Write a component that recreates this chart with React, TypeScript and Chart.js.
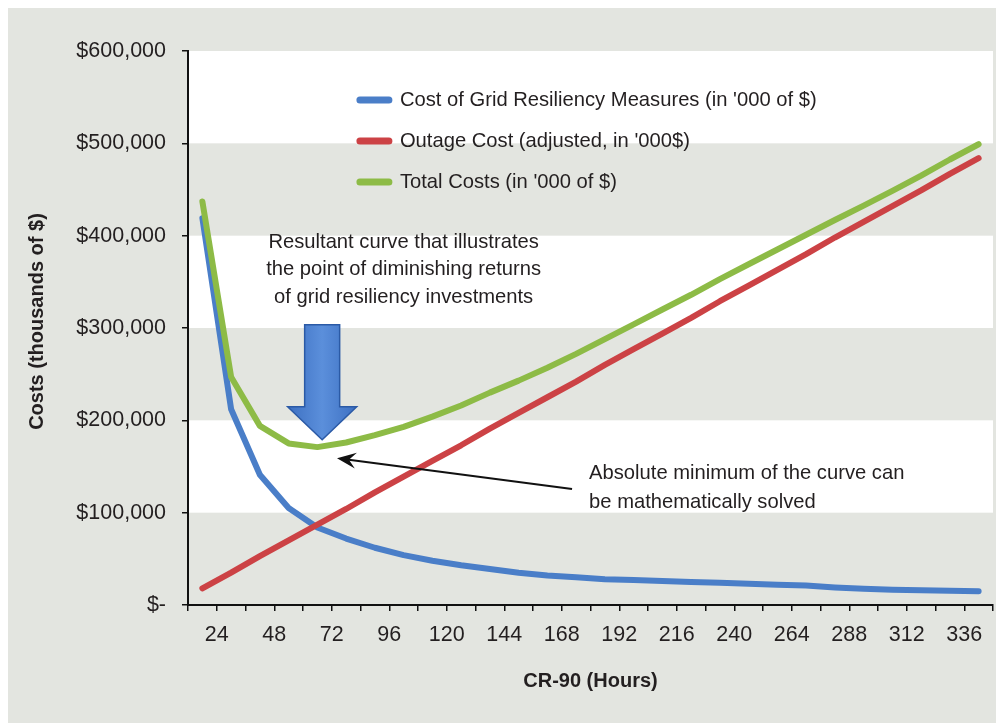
import React, { useEffect, useRef } from 'react';
import { Chart, registerables } from 'chart.js';

Chart.register(...registerables);

// ---------- data ----------
const hours = [18, 30, 42, 54, 66, 78, 90, 102, 114, 126, 138, 150, 162, 174, 186, 198, 210, 222, 234, 246, 258, 270, 282, 294, 306, 318, 330, 342];
const resiliencyCost = [419000, 212000, 141000, 105000, 84000, 72000, 62000, 54000, 48000, 43000, 39000, 35000, 32000, 30000, 28000, 27000, 26000, 25000, 24000, 23000, 22000, 21000, 19000, 17500, 16500, 16000, 15500, 15000];
const outageCost = [18000, 35000, 53000, 70000, 87000, 104000, 122000, 139000, 156000, 173000, 191000, 208000, 225000, 242000, 260000, 277000, 294000, 311000, 329000, 346000, 363000, 380000, 398000, 415000, 432000, 449000, 467000, 484000];
const totalCost = [437000, 247000, 194000, 175000, 171000, 176000, 184000, 193000, 204000, 216000, 230000, 243000, 257000, 272000, 288000, 304000, 320000, 336000, 353000, 369000, 385000, 401000, 417000, 432500, 448500, 465000, 482500, 499000];

const seriesNames = [
  "Cost of Grid Resiliency Measures (in '000 of $)",
  "Outage Cost (adjusted, in '000$)",
  "Total Costs (in '000 of $)",
];
const seriesColors = ['#4a7ec8', '#cc4245', '#8dbb46'];

const xTickLabels = ['24', '48', '72', '96', '120', '144', '168', '192', '216', '240', '264', '288', '312', '336'];
const yTickLabels = ['$-', '$100,000', '$200,000', '$300,000', '$400,000', '$500,000', '$600,000'];

const xAxisTitle = 'CR-90 (Hours)';
const yAxisTitle = 'Costs (thousands of $)';
const noteTop = ['Resultant curve that illustrates', 'the point of diminishing returns', 'of grid resiliency investments'];
const noteRight = ['Absolute minimum of the curve can', 'be mathematically solved'];

const FONT = '"Liberation Sans", Arial, sans-serif';
const TEXT = '#231f20';
const PANEL_BG = '#e3e5e0';

const bandsPlugin = {
  id: 'bands',
  beforeDraw(chart: any) {
    const { ctx, chartArea: a, scales } = chart;
    const y = scales.y;
    ctx.save();
    ctx.fillStyle = '#ffffff';
    for (let v = 0; v < 600000; v += 100000) {
      if ((v / 100000) % 2 === 1) {
        const top = y.getPixelForValue(v + 100000);
        const bot = y.getPixelForValue(v);
        ctx.fillRect(a.left, top, a.right - a.left, bot - top);
      }
    }
    ctx.restore();
  },
};

const overlayPlugin = {
  id: 'overlay',
  afterDatasetsDraw(chart: any) {
    const { ctx, scales } = chart;
    const x = scales.x;
    const y = scales.y;
    ctx.save();

    // legend
    const lx = x.getPixelForValue(82.5);
    const ly = y.getPixelForValue(547000);
    ctx.font = `20.2px ${FONT}`;
    ctx.textBaseline = 'middle';
    ctx.textAlign = 'left';
    seriesNames.forEach((name, i) => {
      const yy = ly + i * 41;
      ctx.strokeStyle = seriesColors[i];
      ctx.lineWidth = 7;
      ctx.lineCap = 'round';
      ctx.beginPath();
      ctx.moveTo(lx + 3, yy);
      ctx.lineTo(lx + 32, yy);
      ctx.stroke();
      ctx.fillStyle = TEXT;
      ctx.fillText(name, lx + 43, yy);
    });

    // note above arrow
    ctx.textAlign = 'center';
    const nx = x.getPixelForValue(102);
    const ny = y.getPixelForValue(393000);
    noteTop.forEach((t, i) => ctx.fillText(t, nx, ny + i * 27.5));

    // note on right
    ctx.textAlign = 'left';
    const rx = x.getPixelForValue(179.4);
    const ry = y.getPixelForValue(143000);
    noteRight.forEach((t, i) => ctx.fillText(t, rx, ry + i * 29));

    // blue block arrow
    const tx = x.getPixelForValue(68);
    const ty = y.getPixelForValue(179000);
    const sw = 17.5, hw = 34.5, hh = 33, total = 115;
    const g = ctx.createLinearGradient(tx - hw, 0, tx + hw, 0);
    g.addColorStop(0, '#3d70c2');
    g.addColorStop(0.5, '#5b8fdb');
    g.addColorStop(1, '#3d70c2');
    ctx.beginPath();
    ctx.moveTo(tx - sw, ty - total);
    ctx.lineTo(tx + sw, ty - total);
    ctx.lineTo(tx + sw, ty - hh);
    ctx.lineTo(tx + hw, ty - hh);
    ctx.lineTo(tx, ty);
    ctx.lineTo(tx - hw, ty - hh);
    ctx.lineTo(tx - sw, ty - hh);
    ctx.closePath();
    ctx.fillStyle = g;
    ctx.fill();
    ctx.strokeStyle = '#2b5aa6';
    ctx.lineWidth = 1.5;
    ctx.lineJoin = 'miter';
    ctx.stroke();

    // black pointer arrow
    const ax = x.getPixelForValue(74.2);
    const ay = y.getPixelForValue(159000);
    const bx = x.getPixelForValue(172.3);
    const by = y.getPixelForValue(125600);
    const ang = Math.atan2(by - ay, bx - ax);
    const ux = Math.cos(ang), uy = Math.sin(ang);
    const px = -uy, py = ux;
    ctx.strokeStyle = '#111';
    ctx.lineWidth = 2.2;
    ctx.lineCap = 'butt';
    ctx.beginPath();
    ctx.moveTo(ax + ux * 10, ay + uy * 10);
    ctx.lineTo(bx, by);
    ctx.stroke();
    ctx.fillStyle = '#111';
    ctx.beginPath();
    ctx.moveTo(ax, ay);
    ctx.lineTo(ax + ux * 19 + px * 8, ay + uy * 19 + py * 8);
    ctx.lineTo(ax + ux * 12, ay + uy * 12);
    ctx.lineTo(ax + ux * 19 - px * 8, ay + uy * 19 - py * 8);
    ctx.closePath();
    ctx.fill();

    ctx.restore();
  },
  afterDraw(chart: any) {
    const { ctx, scales } = chart;
    const y = scales.y;
    ctx.save();
    ctx.font = `bold 20px ${FONT}`;
    ctx.fillStyle = TEXT;
    ctx.textAlign = 'center';
    ctx.textBaseline = 'middle';
    ctx.translate(29, y.getPixelForValue(307000));
    ctx.rotate(-Math.PI / 2);
    ctx.fillText(yAxisTitle, 0, 0);
    ctx.restore();
  },
};

export default function App() {
  const ref = useRef<HTMLCanvasElement | null>(null);

  useEffect(() => {
    document.body.style.overflow = 'hidden';
    const canvas = ref.current;
    if (!canvas) return;
    const seriesValues = [resiliencyCost, outageCost, totalCost];
    const chart = new Chart(canvas, {
      type: 'line',
      data: {
        datasets: seriesValues.map((vals, i) => ({
          label: seriesNames[i],
          data: vals.map((v, j) => ({ x: hours[j], y: v })),
          borderColor: seriesColors[i],
          backgroundColor: seriesColors[i],
          borderWidth: 6,
          pointRadius: 0,
          tension: 0,
          borderCapStyle: 'round',
          borderJoinStyle: 'round',
          fill: false,
          order: 2 - i,
        })),
      },
      options: {
        animation: false,
        responsive: false,
        maintainAspectRatio: false,
        layout: { padding: { left: 0, right: 11, top: 43, bottom: 0 } },
        plugins: { legend: { display: false }, tooltip: { enabled: false } },
        scales: {
          x: {
            type: 'linear',
            min: 12,
            max: 348,
            afterFit: (s: any) => { s.height = 118; },
            ticks: {
              stepSize: 12,
              autoSkip: false,
              maxRotation: 0,
              minRotation: 0,
              padding: 11,
              color: TEXT,
              font: { family: FONT, size: 21.5 },
              callback: (v: any) => (xTickLabels.includes(String(v)) ? String(v) : ''),
            },
            grid: { drawOnChartArea: false, drawTicks: true, tickLength: 6, color: '#111', lineWidth: 1.5 },
            border: { display: true, color: '#111', width: 2 },
            title: {
              display: true,
              text: xAxisTitle,
              color: TEXT,
              font: { family: FONT, size: 20, weight: 'bold' },
              padding: { top: 0, bottom: 30 },
            },
          },
          y: {
            type: 'linear',
            min: 0,
            max: 600000,
            afterFit: (s: any) => { s.width = 180; },
            ticks: {
              stepSize: 100000,
              padding: 16,
              color: TEXT,
              font: { family: FONT, size: 21.5 },
              callback: (v: any) => yTickLabels[Math.round(Number(v) / 100000)],
            },
            grid: { drawOnChartArea: false, drawTicks: true, tickLength: 6, color: '#111', lineWidth: 1.5 },
            border: { display: true, color: '#111', width: 2 },
          },
        },
      },
      plugins: [bandsPlugin, overlayPlugin],
    } as any);
    return () => chart.destroy();
  }, []);

  return (
    <div style={{ width: 996, height: 715, background: PANEL_BG }}>
      <canvas ref={ref} width={996} height={715} style={{ display: 'block' }} />
    </div>
  );
}
